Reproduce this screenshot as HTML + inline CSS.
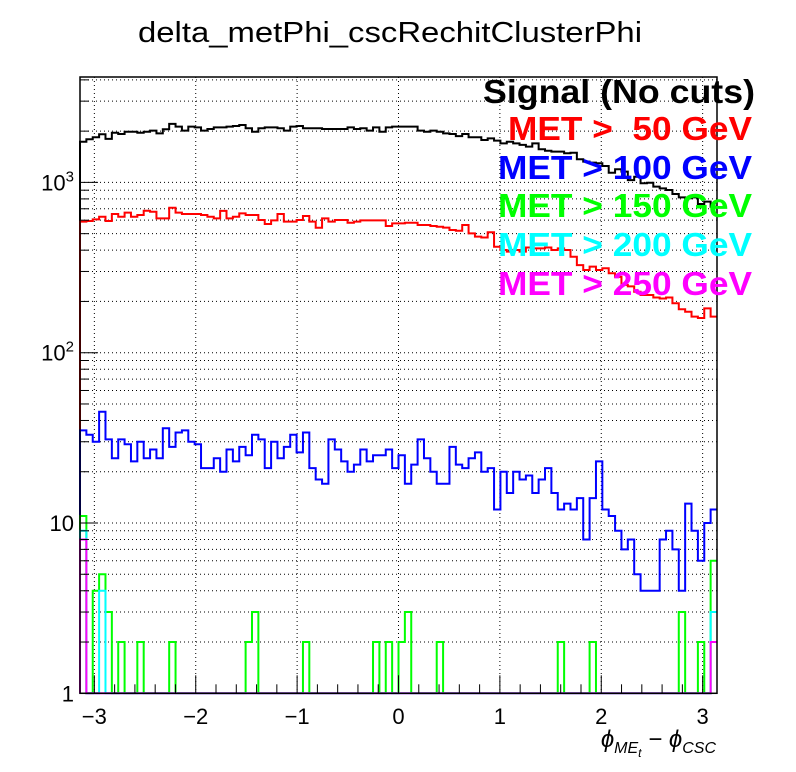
<!DOCTYPE html>
<html><head><meta charset="utf-8">
<style>
html,body{margin:0;padding:0;background:#fff;}
svg{display:block;font-family:"Liberation Sans",sans-serif;}
</style></head>
<body>
<svg id="chart" width="796" height="772" viewBox="0 0 796 772" xmlns="http://www.w3.org/2000/svg">
<rect x="0" y="0" width="796" height="772" fill="#fff"/>
<text x="390" y="42" font-size="29" text-anchor="middle" textLength="504" lengthAdjust="spacingAndGlyphs">delta_metPhi_cscRechitClusterPhi</text>
<g id="grid"></g>
<g id="hists"></g>
<g id="axes"></g>
<g font-weight="bold" font-size="33" text-anchor="end">
<text x="755" y="103" fill="#000" textLength="272" lengthAdjust="spacingAndGlyphs">Signal (No cuts)</text>
<text x="752" y="140" fill="#ff0000" textLength="244" lengthAdjust="spacingAndGlyphs" xml:space="preserve">MET &gt;  50 GeV</text>
<text x="752" y="179" fill="#0000ff" textLength="254" lengthAdjust="spacingAndGlyphs">MET &gt; 100 GeV</text>
<text x="752" y="217" fill="#00ff00" textLength="254" lengthAdjust="spacingAndGlyphs">MET &gt; 150 GeV</text>
<text x="752" y="256" fill="#00ffff" textLength="254" lengthAdjust="spacingAndGlyphs">MET &gt; 200 GeV</text>
<text x="752" y="295" fill="#ff00ff" textLength="254" lengthAdjust="spacingAndGlyphs">MET &gt; 250 GeV</text>
</g>
<text x="716" y="747" font-size="24" font-style="italic" text-anchor="end">ϕ<tspan font-size="16" dy="6">ME</tspan><tspan font-size="12" dy="4">t</tspan><tspan dy="-10"> − ϕ</tspan><tspan font-size="16" dy="6">CSC</tspan></text>
</svg>
<script>
const xTicks = [-3,-2,-1,0,1,2,3];
const yTickLabels = ["1","10","10²","10³"];
const seriesNoCuts = [1734,1792,1840,1916,1800,1958,1923,1985,1985,1958,1985,2013,1941,2050,2205,2125,2013,2125,2105,2013,2060,2105,2105,2125,2143,2173,2080,1985,2080,2105,2105,2080,2013,2125,2143,2080,2080,2080,2060,2060,2060,2060,2105,2060,2080,2013,2105,1985,2105,2125,2125,2125,2125,2013,1985,2013,1985,1941,1923,1871,1923,1840,1840,1775,1815,1758,1696,1734,1696,1660,1622,1696,1565,1535,1515,1515,1482,1494,1367,1324,1306,1295,1248,1140,1194,1156,1032,1080,988,996,944,923,902,855,817,807,817,747,771,720];
const seriesMet50 = [588,593,607,629,593,652,629,664,629,644,682,673,615,615,710,664,652,652,652,644,629,615,680,615,629,658,644,644,601,570,598,652,588,588,601,635,588,542,615,588,601,601,580,588,598,598,598,598,555,575,575,580,580,562,562,555,549,543,525,520,562,502,480,475,510,419,401,392,401,392,415,410,410,415,401,410,401,366,327,306,320,306,313,293,279,250,245,228,218,218,211,208,211,195,180,174,163,160,182,163];
const seriesMet100 = [35,33,30,45,31,24,31,29,23,30,24,27,24,36,28,34,35,30,29,21,21,24,20,27,23,28,25,33,31,21,30,24,28,33,26,34,21,18,17,31,27,23,20,22,27,23,25,25,27,21,25,17,22,31,24,20,17,17,28,22,21,24,26,20,21,12,20,15,20,18,19,15,18,21,15,12,13,12,14,8,14,23,12,11,9,7,8,5,4,4,4,8,9,7,4,13,9,6,10,12];
const seriesMet150 = [11,1,4,5,3,1,2,1,1,2,1,1,1,1,2,1,1,1,1,1,1,1,1,1,1,1,2,3,1,1,1,1,1,1,1,2,1,1,1,1,1,1,1,1,1,1,2,1,2,1,2,3,1,1,1,1,2,1,1,1,1,1,1,1,1,1,1,1,1,1,1,1,1,1,1,2,1,1,1,1,2,1,1,1,1,1,1,1,1,1,1,1,1,1,3,1,1,2,1,6];
const seriesMet200 = [9,1,1,4,1,1,1,1,1,1,1,1,1,1,1,1,1,1,1,1,1,1,1,1,1,1,1,1,1,1,1,1,1,1,1,1,1,1,1,1,1,1,1,1,1,1,1,1,1,1,1,1,1,1,1,1,1,1,1,1,1,1,1,1,1,1,1,1,1,1,1,1,1,1,1,1,1,1,1,1,1,1,1,1,1,1,1,1,1,1,1,1,1,1,1,1,1,1,1,3];
const seriesMet250 = [8,1,1,1,1,1,1,1,1,1,1,1,1,1,1,1,1,1,1,1,1,1,1,1,1,1,1,1,1,1,1,1,1,1,1,1,1,1,1,1,1,1,1,1,1,1,1,1,1,1,1,1,1,1,1,1,1,1,1,1,1,1,1,1,1,1,1,1,1,1,1,1,1,1,1,1,1,1,1,1,1,1,1,1,1,1,1,1,1,1,1,1,1,1,1,1,1,1,1,2];

const NS='http://www.w3.org/2000/svg';
const L=80,R=717,T=77,B=693.3;
const XMIN=-Math.PI,XMAX=Math.PI,DEC=170.3;
function xs(v){return L+(v-XMIN)/(XMAX-XMIN)*(R-L);}
function ys(v){const lv=Math.log10(Math.max(v,1));return Math.max(T,B-lv*DEC);}
function mk(tag,attrs,parent){const e=document.createElementNS(NS,tag);for(const k in attrs)e.setAttribute(k,attrs[k]);parent.appendChild(e);return e;}
const grid=document.getElementById('grid'),axes=document.getElementById('axes'),hists=document.getElementById('hists');
xTicks.forEach(t=>{
  const x=xs(t);
  const g=mk('line',{x1:x,x2:x,y1:T,y2:B,stroke:'#000','stroke-width':1,'stroke-dasharray':'1 3'},grid);
  
  
  const tk=mk('line',{x1:x,x2:x,y1:B,y2:B-18,stroke:'#000','stroke-width':1},axes);
  
  
  const lb=mk('text',{x:x,y:724,'font-size':22,'text-anchor':'middle'},axes);
  lb.textContent=(t<0?'\u2212'+(-t):String(t));
  
  
});
for(let v=-3.0;v<=3.01;v+=0.2){
  const r=Math.round(v*10)/10;if(Math.abs(r-Math.round(r))<1e-6)continue;
  const x=xs(r);
  const tk=mk('line',{x1:x,x2:x,y1:B,y2:B-9,stroke:'#000','stroke-width':1},axes);
  
  
}
for(let d=0;d<4;d++){
  for(let m=1;m<=9;m++){
    const v=m*Math.pow(10,d);
    if(B-Math.log10(v)*DEC<T)continue;
    const y=ys(v);
    const g=mk('line',{x1:L,x2:R,y1:y,y2:y,stroke:'#000','stroke-width':1,'stroke-dasharray':'1 3'},grid);
    
    
    const tk=mk('line',{x1:L,x2:L+(m===1?18:9),y1:y,y2:y,stroke:'#000','stroke-width':1},axes);
    
    
  }
}
yTickLabels.forEach((s,i)=>{
  const y=ys(Math.pow(10,i));
  const lb=mk('text',{x:74,y:y+8,'font-size':22,'text-anchor':'end'},axes);
  if(i<2){lb.textContent=s;}
  else{lb.textContent='10';const sp=mk('tspan',{'font-size':15,dy:-9},lb);sp.textContent=String(i);}
  
  
});
const series=[[seriesNoCuts,'#000','hist-no-cuts'],[seriesMet50,'#ff0000','hist-met50'],[seriesMet100,'#0000ff','hist-met100'],[seriesMet150,'#00ff00','hist-met150'],[seriesMet200,'#00ffff','hist-met200'],[seriesMet250,'#ff00ff','hist-met250']];
series.forEach(([vals,col,name])=>{
  const n=vals.length;const w=(XMAX-XMIN)/n;
  let d='M'+xs(XMIN)+','+B;
  vals.forEach((v,i)=>{const x0=xs(XMIN+i*w),x1=xs(XMIN+(i+1)*w),y=ys(v);d+=' L'+x0+','+y+' L'+x1+','+y;});
  const p=mk('path',{d:d,fill:'none',stroke:col,'stroke-width':2},hists);
  
  
});
const fr=mk('rect',{x:L,y:T,width:R-L,height:B-T,fill:'none',stroke:'#000','stroke-width':1.5},axes);


</script>
</body></html>
